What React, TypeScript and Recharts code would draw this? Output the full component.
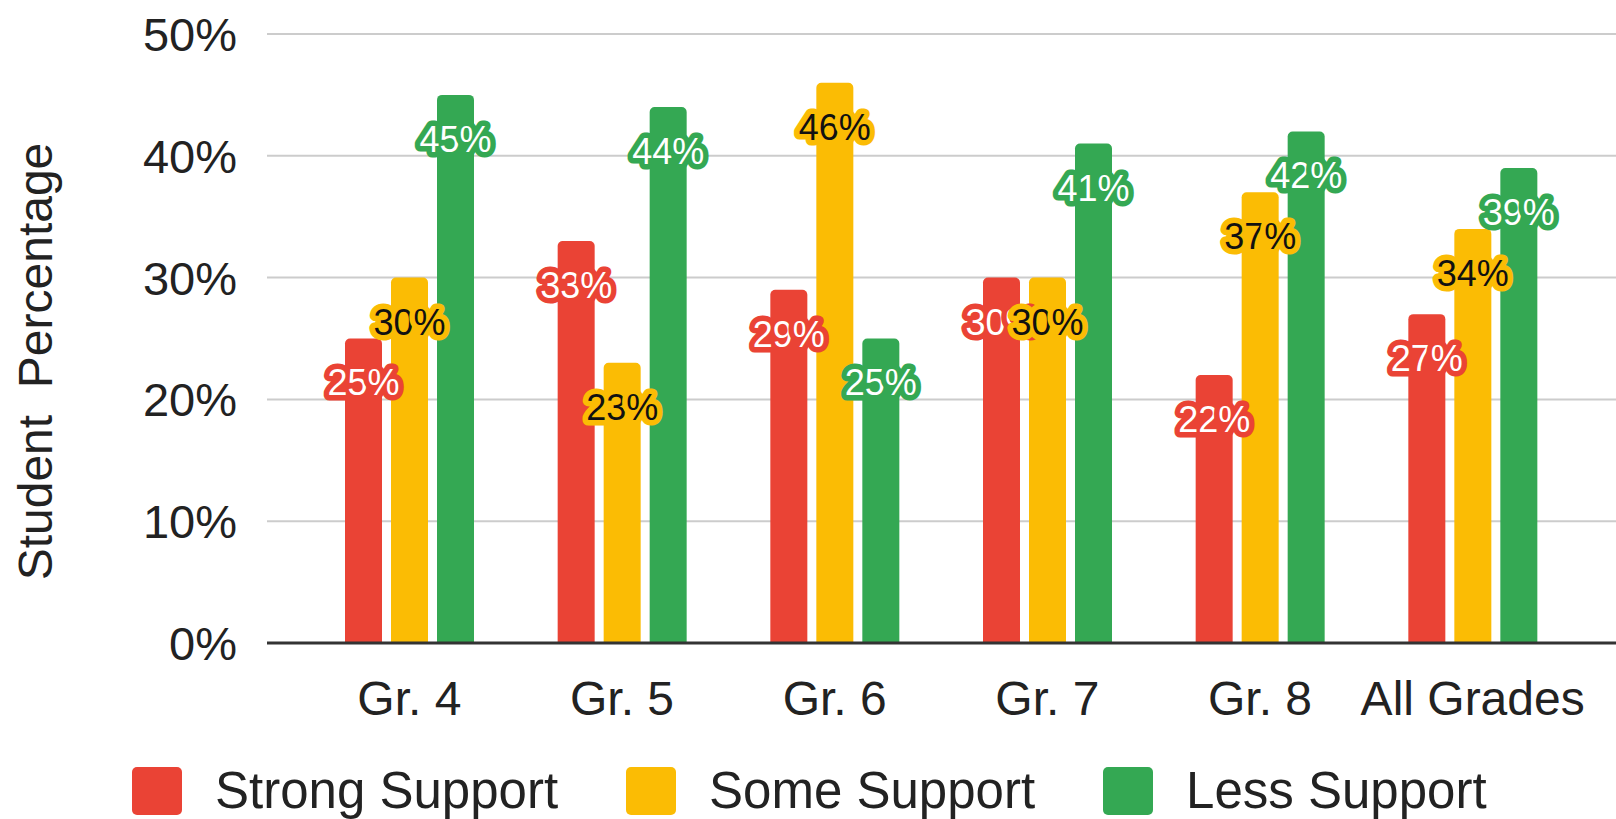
import { BarChart, Bar, XAxis, YAxis, CartesianGrid, Legend, LabelList, Label } from "recharts";

const grades = ["Gr. 4", "Gr. 5", "Gr. 6", "Gr. 7", "Gr. 8", "All Grades"];
const strongSupport = [25, 33, 29, 30, 22, 27];
const someSupport = [30, 23, 46, 30, 37, 34];
const lessSupport = [45, 44, 25, 41, 42, 39];
const yTicks = [0, 10, 20, 30, 40, 50];

const RED = "#ea4335";
const YELLOW = "#fbbc04";
const GREEN = "#34a853";
const FONT = "'Liberation Sans', Arial, sans-serif";

const seriesInfo = [
  { key: "strong", name: "Strong Support", color: RED, text: "#fff" },
  { key: "some", name: "Some Support", color: YELLOW, text: "#111" },
  { key: "less", name: "Less Support", color: GREEN, text: "#fff" },
];

const data = grades.map((grade, i) => ({
  grade,
  strong: strongSupport[i],
  some: someSupport[i],
  less: lessSupport[i],
}));

function makeLabel(bg: string, color: string) {
  return (props: any) => {
    const { x, y, width, value } = props;
    return (
      <text
        x={x + width / 2}
        y={y + 44}
        dy="0.36em"
        textAnchor="middle"
        fontFamily={FONT}
        fontSize={36}
        fill={color}
        stroke={bg}
        strokeWidth={11}
        strokeLinejoin="round"
        paintOrder="stroke"
      >
        {value}%
      </text>
    );
  };
}

function XTick({ x, y, payload }: any) {
  return (
    <text x={x} y={y + 70} textAnchor="middle" fontFamily={FONT} fontSize={48} fill="#222">
      {payload.value}
    </text>
  );
}

function YTick({ x, y, payload }: any) {
  return (
    <text x={x} y={y} dy="0.36em" textAnchor="end" fontFamily={FONT} fontSize={47} fill="#222">
      {payload.value}%
    </text>
  );
}

function YTitle({ viewBox }: any) {
  const cx = viewBox.x + 35;
  const cy = viewBox.y + viewBox.height / 2 + 23;
  return (
    <text
      x={cx}
      y={cy}
      transform={`rotate(-90, ${cx}, ${cy})`}
      textAnchor="middle"
      dy="0.36em"
      fontFamily={FONT}
      fontSize={48}
      fill="#222"
      style={{ whiteSpace: "pre" }}
    >
      {"Student  Percentage"}
    </text>
  );
}

function LegendBox() {
  return (
    <div style={{ display: "flex", alignItems: "center", paddingLeft: 132, paddingTop: 12, height: 56, fontFamily: FONT }}>
      {seriesInfo.map((s) => (
        <div key={s.key} style={{ display: "flex", alignItems: "center", marginRight: 68 }}>
          <div style={{ width: 50, height: 48, background: s.color, borderRadius: 5, marginRight: 33 }} />
          <span style={{ fontSize: 51, color: "#222", lineHeight: "56px" }}>{s.name}</span>
        </div>
      ))}
    </div>
  );
}

export default function App() {
  return (
    <div style={{ width: 1616, height: 819, background: "#fff" }}>
      <style>{`body{margin:0;background:#fff}`}</style>
      <BarChart
        width={1616}
        height={819}
        data={data}
        margin={{ top: 34, right: 0, bottom: 0, left: 0 }}
        barSize={37}
        barGap={9}
      >
        <CartesianGrid vertical={false} stroke="#cccccc" strokeWidth={2} />
        <XAxis
          dataKey="grade"
          height={108}
          padding={{ left: 36, right: 37 }}
          tickLine={false}
          tickSize={0}
          axisLine={{ stroke: "#333", strokeWidth: 3 }}
          tick={<XTick />}
          interval={0}
        />
        <YAxis
          width={267}
          domain={[0, 50]}
          ticks={yTicks}
          axisLine={false}
          tickLine={false}
          tickSize={0}
          tickMargin={30}
          tick={<YTick />}
        >
          <Label content={<YTitle />} />
        </YAxis>
        <Legend
          verticalAlign="bottom"
          height={68}
          wrapperStyle={{ left: 0, bottom: 0, width: 1616 }}
          content={<LegendBox />}
        />
        {seriesInfo.map((s) => (
          <Bar key={s.key} dataKey={s.key} name={s.name} fill={s.color} radius={[5, 5, 0, 0]} isAnimationActive={false}>
            <LabelList dataKey={s.key} content={makeLabel(s.color, s.text)} />
          </Bar>
        ))}
      </BarChart>
    </div>
  );
}
